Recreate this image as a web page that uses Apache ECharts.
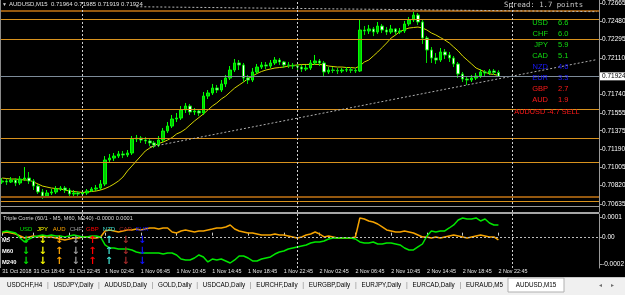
<!DOCTYPE html>
<html><head><meta charset="utf-8">
<script src="https://cdn.jsdelivr.net/npm/echarts@6.0.0/dist/echarts.min.js"></script>
<style>html,body{margin:0;padding:0;background:#000;overflow:hidden}#c{width:625px;height:295px}</style>
</head><body><div id="c"></div>
<script>
// ---------- DATA ----------
const symbolName = 'AUDUSD,M15';
const barStart = Date.UTC(2018, 9, 31, 15, 15);   // first bar time
const barMinutes = 30;
const categoryCount = 134;

const opens = [0.70857,0.70867,0.70857,0.70877,0.70847,0.70887,0.70897,0.70867,0.70816,0.70756,
0.70715,0.70746,0.70756,0.70786,0.70796,0.70776,0.70736,0.70746,0.70736,0.70746,
0.70766,0.70786,0.70796,0.70837,0.71079,0.71099,0.71119,0.71140,0.71130,0.71150,
0.71291,0.71301,0.71281,0.71271,0.71251,0.71230,0.71281,0.71372,0.71422,0.71493,
0.71503,0.71584,0.71624,0.71564,0.71574,0.71554,0.71725,0.71756,0.71806,0.71786,
0.71847,0.71907,0.71988,0.72059,0.72039,0.71907,0.71887,0.71968,0.72018,0.72039,
0.72028,0.72059,0.72089,0.72069,0.72039,0.72036,0.72028,0.72018,0.71998,0.72008,
0.72059,0.72079,0.72059,0.71968,0.71988,0.71984,0.71978,0.71988,0.71991,0.71986,
0.71978,0.72392,0.72382,0.72402,0.72372,0.72432,0.72392,0.72372,0.72402,0.72372,
0.72382,0.72453,0.72493,0.72543,0.72473,0.72311,0.72190,0.72109,0.72089,0.72170,
0.72140,0.72109,0.72049,0.71948,0.71897,0.71887,0.71907,0.71927,0.71968,0.71958,
0.71978,0.71964];
const closes = [0.70867,0.70857,0.70877,0.70847,0.70887,0.70897,0.70867,0.70816,0.70756,0.70715,
0.70746,0.70756,0.70786,0.70796,0.70776,0.70736,0.70746,0.70736,0.70746,0.70766,
0.70786,0.70796,0.70837,0.71079,0.71099,0.71119,0.71140,0.71130,0.71150,0.71291,
0.71301,0.71281,0.71271,0.71251,0.71230,0.71281,0.71372,0.71422,0.71493,0.71503,
0.71584,0.71624,0.71564,0.71574,0.71554,0.71725,0.71756,0.71806,0.71786,0.71847,
0.71907,0.71988,0.72059,0.72039,0.71907,0.71887,0.71968,0.72018,0.72039,0.72028,
0.72059,0.72089,0.72069,0.72039,0.72036,0.72028,0.72018,0.71998,0.72008,0.72059,
0.72079,0.72059,0.71968,0.71988,0.71984,0.71978,0.71988,0.71991,0.71986,0.71978,
0.72392,0.72382,0.72402,0.72372,0.72432,0.72392,0.72372,0.72402,0.72372,0.72382,
0.72453,0.72493,0.72543,0.72473,0.72311,0.72190,0.72109,0.72089,0.72170,0.72140,
0.72109,0.72049,0.71948,0.71897,0.71887,0.71907,0.71927,0.71968,0.71958,0.71978,
0.71964,0.71924];
const highs = [0.70897,0.70887,0.70907,0.70897,0.70917,0.71008,0.70958,0.70887,0.70837,0.70786,
0.70776,0.70786,0.70816,0.70816,0.70816,0.70796,0.70776,0.70766,0.70776,0.70786,
0.70806,0.70827,0.70877,0.71119,0.71140,0.71150,0.71170,0.71170,0.71180,0.71321,
0.71332,0.71321,0.71311,0.71291,0.71271,0.71321,0.71402,0.71463,0.71534,0.71554,
0.71624,0.71655,0.71645,0.71604,0.71594,0.71766,0.71786,0.71847,0.71837,0.71887,
0.71938,0.72028,0.72099,0.72089,0.72059,0.71938,0.72008,0.72049,0.72069,0.72069,
0.72089,0.72119,0.72109,0.72079,0.72069,0.72059,0.72049,0.72039,0.72039,0.72089,
0.72140,0.72099,0.72079,0.72018,0.72018,0.72008,0.72008,0.72018,0.72018,0.72008,
0.72503,0.72432,0.72443,0.72422,0.72473,0.72453,0.72422,0.72443,0.72412,0.72412,
0.72483,0.72523,0.72574,0.72564,0.72493,0.72331,0.72220,0.72160,0.72210,0.72200,
0.72170,0.72129,0.72069,0.71968,0.71927,0.71938,0.71958,0.71998,0.71988,0.71998,
0.71998,0.71985];
const lows = [0.70837,0.70827,0.70847,0.70816,0.70827,0.70867,0.70837,0.70776,0.70736,0.70685,
0.70695,0.70726,0.70736,0.70766,0.70746,0.70695,0.70715,0.70705,0.70715,0.70726,
0.70756,0.70766,0.70776,0.70816,0.71049,0.71069,0.71099,0.71099,0.71109,0.71130,
0.71261,0.71251,0.71241,0.71220,0.71200,0.71210,0.71261,0.71352,0.71402,0.71463,
0.71483,0.71554,0.71534,0.71534,0.71523,0.71534,0.71695,0.71736,0.71756,0.71766,
0.71816,0.71887,0.71968,0.71988,0.71867,0.71847,0.71867,0.71948,0.71998,0.71998,
0.72008,0.72039,0.72039,0.72008,0.72008,0.71998,0.71988,0.71968,0.71978,0.71988,
0.72039,0.72028,0.71927,0.71948,0.71958,0.71948,0.71958,0.71968,0.71958,0.71958,
0.71968,0.72342,0.72352,0.72331,0.72352,0.72362,0.72342,0.72352,0.72342,0.72352,
0.72362,0.72432,0.72473,0.72443,0.72251,0.72059,0.72059,0.72049,0.72069,0.72099,
0.72069,0.72018,0.71907,0.71867,0.71837,0.71867,0.71887,0.71907,0.71927,0.71938,
0.71938,0.71919];
const movingAverage = [0.70897,0.70892,0.70887,0.70887,0.70882,0.70877,0.70877,0.70857,0.70837,0.70816,
0.70806,0.70796,0.70791,0.70786,0.70776,0.70766,0.70761,0.70756,0.70751,0.70756,
0.70761,0.70766,0.70776,0.70791,0.70811,0.70837,0.70867,0.70907,0.70968,0.71018,
0.71069,0.71119,0.71170,0.71200,0.71225,0.71246,0.71261,0.71281,0.71306,0.71342,
0.71362,0.71392,0.71433,0.71473,0.71508,0.71544,0.71584,0.71624,0.71655,0.71695,
0.71725,0.71766,0.71806,0.71837,0.71867,0.71902,0.71927,0.71953,0.71973,0.71988,
0.71998,0.72008,0.72013,0.72018,0.72028,0.72033,0.72039,0.72044,0.72044,0.72044,
0.72044,0.72044,0.72039,0.72028,0.72023,0.72018,0.72018,0.72013,0.72013,0.72008,
0.72028,0.72069,0.72089,0.72129,0.72170,0.72215,0.72261,0.72311,0.72342,0.72377,
0.72397,0.72412,0.72417,0.72422,0.72412,0.72392,0.72362,0.72342,0.72316,0.72291,
0.72261,0.72220,0.72180,0.72129,0.72089,0.72049,0.72008,0.71988,0.71968,0.71948,
0.71943,0.71933];

// horizontal level objects
const levelPrices = [0.72589, 0.72499, 0.72297, 0.71591, 0.71298, 0.71056, 0.70710, 0.70662, 0.70609];
const levelKinds  = ['brown','orange','orange','orange','orange','orange','brown','orange','grey'];
// trend lines: [barIndex, price] anchors
const trendAnchors = [[33, 0.71210], [104, 0.71837]];
const topLineAnchors = [[30, 0.72627], [133, 0.72577]];

const priceTicks = [0.72665,0.72480,0.72295,0.72110,0.71740,0.71555,0.71375,0.71190,0.71005,0.70820,0.70635];
const timeTickLabels = ['31 Oct 2018','31 Oct 18:45','31 Oct 22:45','1 Nov 02:45','1 Nov 06:45','1 Nov 10:45',
  '1 Nov 14:45','1 Nov 18:45','1 Nov 22:45','2 Nov 02:45','2 Nov 06:45','2 Nov 10:45','2 Nov 14:45','2 Nov 18:45','2 Nov 22:45'];

// Triple Corrie sub-window
const corrieOrange = [-0.0000021,0.0000043,-0.0000021,-0.0000085,-0.0000212,-0.0000340,-0.0000276,-0.0000212,-0.0000276,-0.0000212,
-0.0000276,-0.0000276,-0.0000340,-0.0000404,-0.0000467,-0.0000404,-0.0000340,-0.0000340,-0.0000276,-0.0000276,
-0.0000340,-0.0000340,-0.0000276,0.0000107,0.0000171,0.0000107,0.0000043,0.0000107,0.0000171,0.0000171,
0.0000234,0.0000171,0.0000234,0.0000298,0.0000298,0.0000234,0.0000298,0.0000298,0.0000043,-0.0000021,
0.0000107,0.0000171,0.0000107,0.0000043,0.0000107,0.0000107,0.0000171,0.0000234,0.0000298,0.0000298,
0.0000362,0.0000490,0.0000234,0.0000107,0.0000043,-0.0000021,-0.0000021,-0.0000085,-0.0000148,-0.0000148,
-0.0000148,-0.0000085,-0.0000148,-0.0000148,-0.0000212,-0.0000276,-0.0000340,-0.0000276,-0.0000148,-0.0000085,
0.0000043,-0.0000085,-0.0000276,-0.0000212,-0.0000276,-0.0000340,-0.0000340,-0.0000340,-0.0000340,-0.0000276,
0.0000936,0.0000872,0.0000745,0.0000681,0.0000553,0.0000362,0.0000171,0.0000107,0.0000043,0.0000043,
0.0000107,0.0000043,-0.0000021,-0.0000148,-0.0000276,-0.0000276,-0.0000340,-0.0000276,-0.0000340,-0.0000276,
-0.0000212,-0.0000148,-0.0000212,-0.0000276,-0.0000340,-0.0000276,-0.0000212,-0.0000148,-0.0000212,-0.0000276,
-0.0000276,-0.0000467];
const corrieGreen = [0.0000043,0.0000107,0.0000043,-0.0000021,-0.0000340,-0.0000595,-0.0000404,-0.0000276,-0.0000212,-0.0000148,
-0.0000212,-0.0000148,-0.0000212,-0.0000212,-0.0000276,-0.0000212,-0.0000148,-0.0000212,-0.0000276,-0.0000276,
-0.0000212,-0.0000212,-0.0000276,-0.0000786,-0.0000978,-0.0000978,-0.0001042,-0.0001042,-0.0001042,-0.0001105,
-0.0001233,-0.0001297,-0.0001297,-0.0001297,-0.0001297,-0.0001297,-0.0001361,-0.0001297,-0.0001297,-0.0001424,
-0.0001680,-0.0001743,-0.0001743,-0.0001616,-0.0001424,-0.0001552,-0.0001871,-0.0001680,-0.0001743,-0.0001680,
-0.0001807,-0.0001935,-0.0001743,-0.0001488,-0.0001488,-0.0001616,-0.0001807,-0.0001807,-0.0001680,-0.0001616,
-0.0001552,-0.0001361,-0.0001233,-0.0001169,-0.0001042,-0.0000978,-0.0000914,-0.0000850,-0.0000786,-0.0000659,
-0.0000595,-0.0000595,-0.0000531,-0.0000404,-0.0000340,-0.0000340,-0.0000340,-0.0000340,-0.0000340,-0.0000404,
-0.0000595,-0.0000659,-0.0000659,-0.0000595,-0.0000723,-0.0000723,-0.0000659,-0.0000659,-0.0000723,-0.0000786,
-0.0000978,-0.0001105,-0.0001105,-0.0000914,-0.0000723,-0.0000212,0.0000107,0.0000043,0.0000107,0.0000107,
0.0000298,0.0000490,0.0000809,0.0000936,0.0000872,0.0000872,0.0000936,0.0000745,0.0000872,0.0000617,
0.0000490,0.0000490];
const corrieLevel = -0.0000276;
const corrieTicks = [0.0001, corrieLevel, -0.0002];
const corrieTitle = 'Triple Corrie (60/1 - M5, M60, M240) -0.0000 0.0001';
const corrieCurrencies = ['USD','JPY','AUD','CHF','GBP','NZD','CAD','EUR'];
const corrieTimeframes = ['M5','M60','M240'];
const corrieArrows = [ // 1 = up, -1 = down
  [-1,-1,-1,-1, 1, 1,-1,-1],
  [-1,-1, 1,-1, 1, 1,-1,-1],
  [-1,-1, 1,-1, 1, 1,-1,-1]];

// currency strength panel
const spreadPoints = 1.7;
const strengthNames  = ['USD','CHF','JPY','CAD','NZD','EUR','GBP','AUD'];
const strengthValues = [6.6, 6.0, 5.9, 5.1, 4.6, 3.3, 2.7, 1.9];

const tabNames = ['USDCHF,H4','USDJPY,Daily','AUDUSD,Daily','GOLD,Daily','USDCAD,Daily','EURCHF,Daily',
  'EURGBP,Daily','EURJPY,Daily','EURCAD,Daily','EURAUD,M5','AUDUSD,M15'];

// ---------- STYLE / BUILD ----------
const FONT = '"Liberation Sans", Arial, sans-serif';
const kindStyle = {brown:{color:'#94580f',width:2}, orange:{color:'#d8921e',width:1}, grey:{color:'#9a9a9a',width:1}};
const curColor = {USD:'#00e600',JPY:'#ffff00',AUD:'#ffa500',CHF:'#a0a0a0',GBP:'#ff0000',NZD:'#40e0d0',CAD:'#a52a2a',EUR:'#1010ff'};

const months = ['Jan','Feb','Mar','Apr','May','Jun','Jul','Aug','Sep','Oct','Nov','Dec'];
const pad = n => String(n).padStart(2,'0');
const barDates = Array.from({length: categoryCount}, (_, i) => new Date(barStart + i * barMinutes * 60000));
const categories = barDates.map(d => d.getUTCDate()+' '+months[d.getUTCMonth()]+' '+pad(d.getUTCHours())+':'+pad(d.getUTCMinutes()));
const tickText = {};
timeTickLabels.forEach((t, k) => { const ix = k === 0 ? 0 : categories.indexOf(t); if (ix >= 0) tickText[ix] = t; });
const isTick = i => tickText[i] !== undefined;
const daySeps = [];
for (let i = 1; i < categoryCount; i++) if (barDates[i].getUTCDate() !== barDates[i-1].getUTCDate()) daySeps.push(categories[i]);

const candleData = opens.map((o, i) => [o, closes[i], lows[i], highs[i]]);
const lastClose = closes[closes.length - 1];
const last = closes.length - 1;

// extend trend line to the right edge (ray)
const lastCat = categoryCount - 1;
const tSlope = (trendAnchors[1][1] - trendAnchors[0][1]) / (trendAnchors[1][0] - trendAnchors[0][0]);
const trendEnd = trendAnchors[1][1] + tSlope * (lastCat - trendAnchors[1][0]);

const sepStyle = {color:'#cfcfcf', width:1, type:[2,2]};
const mainMarks = [];
levelPrices.forEach((p, k) => mainMarks.push({yAxis:p, lineStyle:Object.assign({type:'solid'}, kindStyle[levelKinds[k]]), label:{show:false}}));
daySeps.forEach(c => mainMarks.push({xAxis:c, lineStyle:sepStyle, label:{show:false}}));
mainMarks.push([{coord:[categories[trendAnchors[0][0]], trendAnchors[0][1]]},{coord:[categories[lastCat], trendEnd]}]);
mainMarks.push([{coord:[categories[topLineAnchors[0][0]], topLineAnchors[0][1]], lineStyle:{color:'#b8b8b8', width:1, type:[2,2]}},
                {coord:[categories[topLineAnchors[1][0]], topLineAnchors[1][1]]}]);
mainMarks.push({yAxis:lastClose, lineStyle:{color:'#7d8b99', width:1, type:'solid'},
  label:{show:true, position:'end', distance:1, formatter:lastClose.toFixed(5), backgroundColor:'#ffffff', color:'#000',
         fontSize:6.5, fontFamily:FONT, padding:[1,2,0,2]}});

const subMarks = [{yAxis:corrieLevel, lineStyle:{color:'#bdbdbd', width:1, type:[2,2]}, label:{show:false}}];
daySeps.forEach(c => subMarks.push({xAxis:c, lineStyle:sepStyle, label:{show:false}}));

// ---------- GRAPHICS (text panels) ----------
const g = [];
function txt(x, y, text, fill, size, extra) {
  g.push({type:'text', x, y, silent:true, z:100,
    style:Object.assign({text, fill, font:size+'px '+FONT, textAlign:'left', textVerticalAlign:'middle'}, extra||{})});
}
// window chrome
g.push({type:'rect', silent:true, z:90, shape:{x:0, y:212, width:599, height:2}, style:{fill:'#a6a6a6'}});
g.push({type:'rect', silent:true, z:90, shape:{x:0, y:0, width:1, height:268}, style:{fill:'#8a8a8a'}});
// top-left caption
txt(2, 4.5, '\u25BC', '#d0d0d0', 5);
txt(9, 4.5, symbolName + '  ' + [opens[last], highs[last], lows[last], closes[last]].map(v => v.toFixed(5)).join(' '), '#e0e0e0', 6);
// spread
txt(504, 5.5, 'Spread: ' + spreadPoints.toFixed(1) + ' points', '#c8c8c8', 7.3, {font:'7.3px "DejaVu Sans Mono", monospace'});
// strength
const strengthColor = v => v >= 5 ? '#10dd10' : (v >= 3 ? '#1a1aff' : '#ff1a1a');
strengthNames.forEach((n, k) => {
  const c = strengthColor(strengthValues[k]);
  txt(548, 22.5 + 11*k, n, c, 7.5, {textAlign:'right'});
  txt(558, 22.5 + 11*k, strengthValues[k].toFixed(1), c, 7.5);
});
const base = symbolName.slice(0,3), quote = symbolName.slice(3,6);
const pairDiff = strengthValues[strengthNames.indexOf(base)] - strengthValues[strengthNames.indexOf(quote)];
txt(547, 111.5, base + quote + ' ' + pairDiff.toFixed(1) + ' ' + (pairDiff < 0 ? 'SELL' : 'BUY'), '#ff1a1a', 7.3, {textAlign:'center'});
// Triple Corrie panel
txt(3, 218.5, corrieTitle, '#d8d8d8', 5.6);
corrieCurrencies.forEach((c, k) => {
  const cx = 26 + 16.6*k;
  txt(cx, 229.5, c, curColor[c], 6, {textAlign:'center'});
  corrieArrows.forEach((row, r) => {
    txt(cx, 240.5 + 10.7*r, row[k] > 0 ? '\u2191' : '\u2193', curColor[c], 10,
        {textAlign:'center', font:'bold 10px "DejaVu Sans", sans-serif'});
  });
});
corrieTimeframes.forEach((t, r) => txt(2, 240.5 + 10.7*r, t, '#ffffff', 5.8, {font:'bold 5.8px '+FONT}));
// tab bar (sequential layout from measured text widths)
g.push({type:'rect', silent:true, z:90, shape:{x:0, y:277, width:625, height:18}, style:{fill:'#f0f0f0'}});
g.push({type:'rect', silent:true, z:90, shape:{x:0, y:277, width:625, height:1}, style:{fill:'#c8c8c8'}});
const tabFont = '6.3px ' + FONT;
const mctx = document.createElement('canvas').getContext('2d');
mctx.font = tabFont;
const inactive = tabNames.slice(0, -1);
const widths = inactive.map(t => mctx.measureText(t).width);
const spanStart = 7, spanEnd = 503;
const gap = (spanEnd - spanStart - widths.reduce((a, b) => a + b, 0)) / (inactive.length - 1);
let tx = spanStart;
inactive.forEach((t, k) => {
  txt(tx, 285.5, t, '#000000', 6.3, {z:95});
  if (k < inactive.length - 1) txt(tx + widths[k] + gap / 2, 285.5, '|', '#8a8a8a', 7, {textAlign:'center'});
  tx += widths[k] + gap;
});
g.push({type:'rect', silent:true, z:91, shape:{x:508, y:278, width:56, height:14}, style:{fill:'#ffffff', stroke:'#b0b0b0', lineWidth:1}});
txt(536, 285.5, tabNames[tabNames.length - 1], '#000000', 6.3, {z:95, textAlign:'center'});
txt(598, 285.5, '\u25C4', '#707070', 5);
txt(610, 285.5, '\u25BA', '#707070', 5);

// ---------- CHART ----------
const chart = echarts.init(document.getElementById('c'), null, {renderer:'canvas', width:625, height:295});
chart.setOption({
  backgroundColor:'#000000',
  animation:false,
  grid:[
    {left:0, top:0, width:599, height:212, containLabel:false, outerBoundsMode:'none', show:false},
    {left:0, top:214, width:599, height:54, containLabel:false, outerBoundsMode:'none', show:false}
  ],
  xAxis:[
    {type:'category', gridIndex:0, data:categories, boundaryGap:true, show:false},
    {type:'category', gridIndex:1, data:categories, boundaryGap:true,
     axisLine:{show:false},
     axisTick:{show:true, interval:isTick, alignWithLabel:true, length:3, lineStyle:{color:'#c8c8c8'}},
     axisLabel:{show:true, interval:isTick, formatter:(v, i) => tickText[i] || '', align:'left', showMinLabel:true,
                color:'#e8e8e8', fontSize:5.4, fontFamily:FONT, margin:1.5, hideOverlap:false},
     splitLine:{show:false}}
  ],
  yAxis:[
    {type:'value', gridIndex:0, position:'right', min:0.70554, max:0.72695,
     splitLine:{show:false},
     axisLine:{show:true, lineStyle:{color:'#9a9a9a'}},
     axisTick:{show:true, length:3, customValues:priceTicks, lineStyle:{color:'#9a9a9a'}},
     axisLabel:{show:true, customValues:priceTicks, formatter:v => v.toFixed(5), color:'#ffffff', fontSize:6.5, fontFamily:FONT, margin:3}},
    {type:'value', gridIndex:1, position:'right', min:-0.0002254, max:0.0001191,
     splitLine:{show:false},
     axisLine:{show:true, lineStyle:{color:'#9a9a9a'}},
     axisTick:{show:true, length:3, customValues:corrieTicks, lineStyle:{color:'#9a9a9a'}},
     axisLabel:{show:true, customValues:corrieTicks, formatter:v => Math.abs(v - corrieLevel) < 1e-9 ? '0.00' : v.toFixed(4),
                color:'#ffffff', fontSize:6.5, fontFamily:FONT, margin:3}}
  ],
  graphic:g,
  series:[
    {type:'line', name:'MA', xAxisIndex:0, yAxisIndex:0, data:movingAverage, showSymbol:false, z:2,
     lineStyle:{color:'#d6d600', width:1},
     markLine:{silent:true, symbol:'none', animation:false, precision:6, data:mainMarks,
               lineStyle:{color:'#b0b0b0', width:1, type:[2,2]}, label:{show:false}}},
    {type:'candlestick', name:symbolName, xAxisIndex:0, yAxisIndex:0, data:candleData, z:3, barWidth:3,
     itemStyle:{color:'#00c800', color0:'#ffffff', borderColor:'#00ff00', borderColor0:'#00e000', borderWidth:1}},
    {type:'line', name:'orange', xAxisIndex:1, yAxisIndex:1, data:corrieOrange, showSymbol:false, z:2,
     lineStyle:{color:'#f5a300', width:1.5},
     markLine:{silent:true, symbol:'none', animation:false, precision:8, data:subMarks, label:{show:false}}},
    {type:'line', name:'green', xAxisIndex:1, yAxisIndex:1, data:corrieGreen, showSymbol:false, z:3,
     lineStyle:{color:'#00e800', width:1.5}}
  ]
});
</script></body></html>
